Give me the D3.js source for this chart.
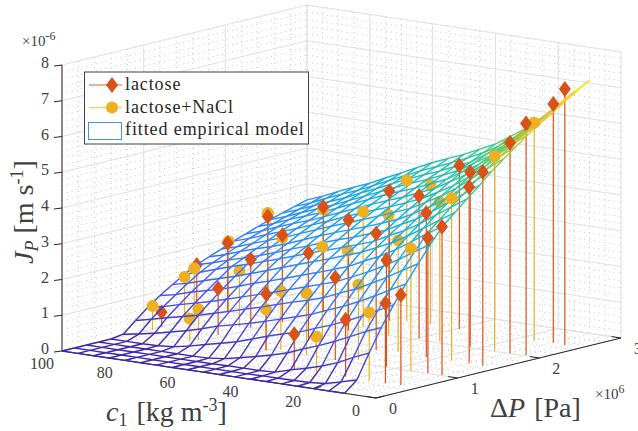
<!DOCTYPE html>
<html>
<head>
<meta charset="utf-8">
<script src="https://cdn.jsdelivr.net/npm/d3@7"></script>
<style>
html, body { margin: 0; padding: 0; background: #fff; overflow: hidden; }
text { font-family: "Liberation Serif", serif; }
</style>
</head>
<body>
<div id="myGraph"></div>
<script>
// concentration [kg m-3], pressure [x10^6 Pa], flux [x10^-6 m/s]
var cTicks = [0, 20, 40, 60, 80, 100];
var dpTicks = [0, 1, 2, 3];
var jTicks = [0, 1, 2, 3, 4, 5, 6, 7, 8];

var meshC = [10, 15, 20, 25, 30, 35, 40, 45, 50, 55, 60, 65, 70, 75, 80, 85, 90, 95, 100];
var meshDP = [0, .15, .3, .45, .6, .75, .9, 1.05, 1.2, 1.35, 1.5, 1.65, 1.8, 1.95, 2.1, 2.25, 2.4, 2.55, 2.7, 2.85, 3];
// one row per meshC value, one column per meshDP value
var meshJ = [
  [0, .29, .96, 1.59, 2.14, 2.64, 3.12, 3.58, 4.0, 4.3, 4.6, 4.89, 5.2, 5.47, 5.73, 5.99, 6.21, 6.43, 6.65, 6.87, 7.08],
  [0, .17, .77, 1.41, 1.92, 2.41, 2.87, 3.31, 3.73, 4.02, 4.31, 4.59, 4.88, 5.15, 5.39, 5.63, 5.85, 6.06, 6.27, 6.47, 6.68],
  [0, .06, .56, 1.2, 1.69, 2.17, 2.61, 3.03, 3.43, 3.73, 4.01, 4.28, 4.55, 4.8, 5.03, 5.27, 5.48, 5.67, 5.87, 6.06, 6.27],
  [0, .02, .4, 1.0, 1.49, 1.95, 2.37, 2.77, 3.15, 3.45, 3.71, 3.97, 4.22, 4.46, 4.68, 4.91, 5.11, 5.29, 5.48, 5.66, 5.85],
  [0, .01, .27, .82, 1.31, 1.75, 2.15, 2.54, 2.9, 3.2, 3.45, 3.69, 3.93, 4.16, 4.37, 4.59, 4.78, 4.95, 5.13, 5.31, 5.48],
  [0, .01, .16, .66, 1.15, 1.58, 1.97, 2.34, 2.7, 2.99, 3.24, 3.47, 3.69, 3.92, 4.12, 4.33, 4.52, 4.69, 4.85, 5.0, 5.19],
  [0, .01, .03, .48, .98, 1.4, 1.78, 2.14, 2.48, 2.79, 3.01, 3.24, 3.46, 3.68, 3.88, 4.07, 4.25, 4.41, 4.57, 4.74, 4.9],
  [0, 0, .01, .36, .87, 1.26, 1.64, 2.0, 2.33, 2.64, 2.86, 3.08, 3.29, 3.51, 3.7, 3.89, 4.06, 4.22, 4.38, 4.53, 4.69],
  [0, 0, .01, .25, .74, 1.13, 1.52, 1.86, 2.18, 2.48, 2.71, 2.92, 3.13, 3.34, 3.52, 3.7, 3.87, 4.03, 4.18, 4.33, 4.48],
  [0, 0, .01, .15, .59, 1.0, 1.39, 1.72, 2.04, 2.34, 2.57, 2.78, 2.98, 3.18, 3.36, 3.54, 3.71, 3.86, 4.01, 4.15, 4.3],
  [0, 0, 0, .06, .45, .88, 1.25, 1.58, 1.89, 2.19, 2.43, 2.63, 2.83, 3.02, 3.2, 3.37, 3.54, 3.68, 3.83, 3.97, 4.12],
  [0, 0, 0, .01, .34, .77, 1.13, 1.45, 1.75, 2.04, 2.28, 2.47, 2.67, 2.86, 3.03, 3.19, 3.35, 3.49, 3.63, 3.77, 3.91],
  [0, 0, 0, 0, .24, .67, 1.0, 1.32, 1.62, 1.89, 2.13, 2.32, 2.5, 2.69, 2.85, 3.01, 3.17, 3.3, 3.43, 3.57, 3.7],
  [0, 0, 0, 0, .13, .53, .88, 1.19, 1.47, 1.74, 1.99, 2.16, 2.33, 2.52, 2.68, 2.83, 2.98, 3.11, 3.24, 3.36, 3.49],
  [0, 0, 0, 0, .05, .41, .76, 1.06, 1.33, 1.6, 1.85, 2.01, 2.18, 2.35, 2.51, 2.65, 2.79, 2.92, 3.04, 3.16, 3.28],
  [0, 0, 0, 0, .01, .31, .66, .95, 1.22, 1.47, 1.72, 1.88, 2.05, 2.2, 2.36, 2.5, 2.63, 2.75, 2.87, 2.99, 3.1],
  [0, 0, 0, 0, 0, .21, .56, .84, 1.11, 1.34, 1.58, 1.75, 1.91, 2.05, 2.2, 2.34, 2.47, 2.58, 2.69, 2.81, 2.92],
  [0, 0, 0, 0, 0, .12, .45, .72, .97, 1.21, 1.43, 1.61, 1.75, 1.89, 2.04, 2.16, 2.29, 2.4, 2.51, 2.61, 2.72],
  [0, 0, 0, 0, 0, .05, .35, .63, .88, 1.1, 1.31, 1.49, 1.63, 1.76, 1.9, 2.02, 2.14, 2.25, 2.35, 2.45, 2.55]
];

var lactoseC = [5.4, 9.6, 5, 9.6, 5, 22.8, 9.6, 39, 5.5, 10, 23, 39.6, 60, 38.7, 10, 5.6, 23.2, 38.7, 23.2, 60, 82, 60.5, 39.3, 100, 81.5, 99, 100, 80, 60, 100, 80];
var lactoseDP = [2.52, 2.54, 2.03, 2.01, 1.5, 2.03, 1.51, 2.52, 1.02, 1.02, 1.5, 2.05, 2.47, 1.49, .5, .52, 1.02, .99, .52, 1.97, 1.22, .98, .51, 1.22, 1.6, 1.99, 2.52, 1.93, 1.48, 1.65, 2.43];
var lactoseJ = [7.16, 6.68, 6.48, 5.89, 5.42, 4.88, 4.93, 4.58, 4.15, 3.77, 4.03, 3.99, 3.62, 3.26, 2.24, 2.52, 2.98, 2.31, 1.59, 3.09, 1.30, 1.57, .98, .40, 1.91, 1.92, 2.35, 2.43, 2.44, 1.48, 2.93];
var lactoseUnder = [23, 29];

var naclC = [99, 100, 100, 82.2, 81.9, 84.6, 99, 60.5, 57.6, 100, 80, 48.4, 60, 33, 34.2, 15.3, 33, 14.9, 48, 60, 48, 56, 48.7, 33, 15.2, 14.5, 14.9, 80];
var naclDP = [1.07, 1.5, 1.62, .88, .975, 1.58, 2, .98, 1.05, 2.52, 1.93, 1.01, 1.65, .54, 1.1, .505, 1.54, 1, 1.5, 2.15, 2, 2.53, 2.54, 2.05, 1.51, 2.01, 2.51, 2.43];
var naclJ = [.67, 1.23, 1.41, .65, .86, 1.56, 1.96, 1.14, 1.65, 2.45, 2.36, 1.73, 2.52, .98, 2.10, 1.91, 3.12, 3.43, 2.65, 3.22, 3.37, 3.94, 3.90, 3.91, 4.54, 5.45, 6.10, 2.86];
var naclUnder = [3, 4, 5, 7, 8, 11, 13, 14, 16, 18, 20, 22, 23];

var w = 638, h = 431;

var vis = d3.select("#myGraph").append("svg").attr("width", w).attr("height", h);

// orthographic view: each data axis moves along its own screen direction
var originX = 376, originY = 398;
var cToX = d3.scaleLinear().domain([0, 100]).range([0, -314]);
var cToY = d3.scaleLinear().domain([0, 100]).range([0, -47]);
var dpToX = d3.scaleLinear().domain([0, 3]).range([0, 245]);
var dpToY = d3.scaleLinear().domain([0, 3]).range([0, -60]);
var jToY = d3.scaleLinear().domain([0, 8]).range([0, -286]);

function px(c, dp) { return originX + cToX(c) + dpToX(dp); }
function py(c, dp, j) { return originY + cToY(c) + dpToY(dp) + jToY(j); }

function seg(g, a, b, color, width, dash) {
  var l = g.append("line")
    .attr("x1", px(a[0], a[1])).attr("y1", py(a[0], a[1], a[2]))
    .attr("x2", px(b[0], b[1])).attr("y2", py(b[0], b[1], b[2]))
    .style("stroke", color).style("stroke-width", width);
  if (dash) l.style("stroke-dasharray", dash);
  return l;
}

// grid on the two back walls and the floor
var minorC = d3.range(0, 100.1, 5), minorDP = d3.range(0, 3.01, .2), minorJ = d3.range(0, 8.01, .2);
var grid = vis.append("g");
var minorColor = "#c4c4c4", minorDash = "1 4", majorColor = "#e2e2e2";

function wallLines(cs, dps, js, color, width, dash) {
  cs.forEach(function(c) {
    seg(grid, [c, 0, 0], [c, 3, 0], color, width, dash);
    seg(grid, [c, 3, 0], [c, 3, 8], color, width, dash);
  });
  dps.forEach(function(d) {
    seg(grid, [0, d, 0], [100, d, 0], color, width, dash);
    seg(grid, [100, d, 0], [100, d, 8], color, width, dash);
  });
  js.forEach(function(j) {
    seg(grid, [100, 0, j], [100, 3, j], color, width, dash);
    seg(grid, [100, 3, j], [0, 3, j], color, width, dash);
  });
}
wallLines(minorC, minorDP, minorJ, minorColor, 1, minorDash);
wallLines(cTicks, dpTicks, jTicks, majorColor, 1);

// black axis lines and ticks
var axes = vis.append("g");
var axisColor = "#262626";
seg(axes, [100, 0, 0], [100, 0, 8], axisColor, 1);
seg(axes, [100, 0, 0], [0, 0, 0], axisColor, 1);
seg(axes, [0, 0, 0], [0, 3, 0], axisColor, 1);
jTicks.forEach(function(j) {
  axes.append("line").attr("x1", px(100, 0) - 8).attr("y1", py(100, 0, j) + 1)
    .attr("x2", px(100, 0)).attr("y2", py(100, 0, j)).style("stroke", axisColor);
});
cTicks.forEach(function(c) { seg(axes, [c, 0, 0], [c, .1, 0], axisColor, 1); });
dpTicks.forEach(function(d) { seg(axes, [0, d, 0], [3, d, 0], axisColor, 1); });

var labels = vis.append("g").style("fill", "#404040").style("font-size", "16px");
jTicks.forEach(function(j) {
  labels.append("text").text(j).attr("x", px(100, 0) - 13).attr("y", py(100, 0, j) + 3).attr("text-anchor", "end");
});
cTicks.forEach(function(c) {
  labels.append("text").text(c).attr("x", px(c, 0) - 20).attr("y", py(c, 0, 0) + 18).attr("text-anchor", "middle");
});
dpTicks.forEach(function(d) {
  labels.append("text").text(d).attr("x", px(0, d) + 17).attr("y", py(0, d, 0) + 16).attr("text-anchor", "middle");
});

var exp1 = labels.append("text").attr("x", 22).attr("y", 46).style("font-size", "15px");
exp1.append("tspan").text("\u00d710");
exp1.append("tspan").text("-6").attr("dy", -6).style("font-size", "12px");
var exp2 = labels.append("text").attr("x", 595).attr("y", 399).style("font-size", "15px");
exp2.append("tspan").text("\u00d710");
exp2.append("tspan").text("6").attr("dy", -6).style("font-size", "12px");

// axis titles
var titles = vis.append("g").style("fill", "#404040").style("font-size", "28px");
var tc = titles.append("text").attr("x", 106).attr("y", 421);
tc.append("tspan").text("c").style("font-style", "italic");
tc.append("tspan").text("1").attr("dy", 5).style("font-size", "18px");
tc.append("tspan").text("[kg m").attr("dy", -5).attr("dx", 9);
tc.append("tspan").text("-3").attr("dy", -10).style("font-size", "18px");
tc.append("tspan").text("]").attr("dy", 10);

var tj = titles.append("text").attr("transform", "translate(33,264) rotate(-90)");
tj.append("tspan").text("J").style("font-style", "italic");
tj.append("tspan").text("P").attr("dy", 5).style("font-style", "italic").style("font-size", "18px");
tj.append("tspan").text("[m s").attr("dy", -5).attr("dx", 7);
tj.append("tspan").text("-1").attr("dy", -10).style("font-size", "18px");
tj.append("tspan").text("]").attr("dy", 10);

var tp = titles.append("text").attr("x", 490).attr("y", 417);
tp.append("tspan").text("\u0394");
tp.append("tspan").text("P").style("font-style", "italic");
tp.append("tspan").text("[Pa]").attr("dx", 9);

// stems sit under the mesh
var lactoseColor = "#d95319", naclColor = "#edb120";
var stems = vis.append("g");
naclC.forEach(function(c, i) { seg(stems, [c, naclDP[i], 0], [c, naclDP[i], naclJ[i]], naclColor, 1.2); });
lactoseC.forEach(function(c, i) { seg(stems, [c, lactoseDP[i], 0], [c, lactoseDP[i], lactoseJ[i]], lactoseColor, 1.2); });

function circles(g, idx) {
  idx.forEach(function(i) {
    g.append("circle").attr("cx", px(naclC[i], naclDP[i])).attr("cy", py(naclC[i], naclDP[i], naclJ[i]))
      .attr("r", 6).style("fill", naclColor);
  });
}
function diamonds(g, idx) {
  idx.forEach(function(i) {
    var x = px(lactoseC[i], lactoseDP[i]), y = py(lactoseC[i], lactoseDP[i], lactoseJ[i]);
    g.append("path").attr("d", d3.line()([[x, y - 8], [x + 6, y], [x, y + 8], [x - 6, y]]) + "Z").style("fill", lactoseColor);
  });
}

var under = vis.append("g");
circles(under, naclUnder);
diamonds(under, lactoseUnder);

// fitted surface, parula colours by flux
var parula = d3.scaleLinear()
  .domain([0, 1.1, 2.2, 3.5, 4.7, 5.6, 6.4, 6.8, 7.2])
  .range(["#3e26a8", "#4752f4", "#2d87f7", "#12b1d6", "#37c897", "#abc739", "#fec338", "#f6de26", "#f9fb14"]);

var mesh = vis.append("g");
meshC.forEach(function(c, i) {
  meshDP.forEach(function(d, k) {
    var j = meshJ[i][k];
    if (k + 1 < meshDP.length) {
      seg(mesh, [c, d, j], [c, meshDP[k + 1], meshJ[i][k + 1]], parula((j + meshJ[i][k + 1]) / 2), 1.4);
    }
    if (i + 1 < meshC.length) {
      seg(mesh, [c, d, j], [meshC[i + 1], d, meshJ[i + 1][k]], parula((j + meshJ[i + 1][k]) / 2), 1.4);
    }
  });
});

var over = vis.append("g");
circles(over, d3.range(naclC.length).filter(function(i) { return naclUnder.indexOf(i) < 0; }));
diamonds(over, d3.range(lactoseC.length).filter(function(i) { return lactoseUnder.indexOf(i) < 0; }));

// legend
var leg = vis.append("g");
leg.append("rect").attr("x", 84.5).attr("y", 72).attr("width", 224).attr("height", 72)
  .style("fill", "#fff").style("stroke", "#404040").style("stroke-width", 1);
leg.append("line").attr("x1", 89).attr("x2", 122).attr("y1", 85).attr("y2", 85).style("stroke", lactoseColor).style("stroke-width", 1.4).style("opacity", .6);
leg.append("path").attr("d", d3.line()([[112, 77], [118, 85], [112, 93], [106, 85]]) + "Z").style("fill", lactoseColor);
leg.append("line").attr("x1", 89).attr("x2", 122).attr("y1", 107.5).attr("y2", 107.5).style("stroke", naclColor).style("stroke-width", 1.4).style("opacity", .6);
leg.append("circle").attr("cx", 112).attr("cy", 107.5).attr("r", 6).style("fill", naclColor);
leg.append("rect").attr("x", 88.5).attr("y", 122.5).attr("width", 33).attr("height", 17)
  .style("fill", "#fff").style("stroke", "#3a9be0").style("stroke-width", 1);

var legText = leg.append("g").style("fill", "#262626").style("font-size", "18px").style("letter-spacing", ".9px");
legText.append("text").text("lactose").attr("x", 125).attr("y", 90);
legText.append("text").text("lactose+NaCl").attr("x", 125).attr("y", 113);
legText.append("text").text("fitted empirical model").attr("x", 125).attr("y", 135);
</script>
</body>
</html>
